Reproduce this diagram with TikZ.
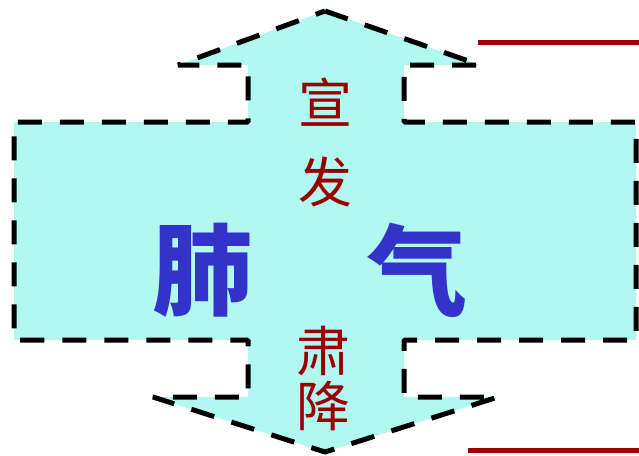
\documentclass[tikz,border=0pt]{standalone}
\usepackage{fontspec}
\newfontfamily\cjk{Noto Sans CJK SC}
\definecolor{fillcyan}{HTML}{B0F8F0}
\definecolor{darkred}{HTML}{990000}
\definecolor{textblue}{HTML}{3333CC}
\tikzset{
  outline/.style={draw=black, fill=fillcyan, line width=5pt, dash pattern=on 24pt off 18pt, line join=bevel},
  redline/.style={draw=darkred, line width=5pt},
  redchar/.style={text=darkred, font=\cjk\fontsize{54}{54}\selectfont, inner sep=0pt},
  bluechar/.style={text=textblue, font=\cjk\bfseries\fontsize{100}{100}\selectfont, inner sep=0pt},
}
\begin{document}
\begin{tikzpicture}[x=1pt,y=-1pt]
\useasboundingbox (0,0) rectangle (639,455);
\draw[outline] (325,11) -- (480,65) -- (404,65) -- (404,122) -- (636,122) -- (636,340)
  -- (404,340) -- (404,397) -- (498,397) -- (325,452) -- (153,397) -- (248,397)
  -- (248,340) -- (14,340) -- (14,122) -- (248,122) -- (248,65) -- (178,65) -- cycle;
\coordinate (r1a) at (478,42);
\coordinate (r1b) at (639,42);
\coordinate (r2a) at (468,450);
\coordinate (r2b) at (639,450);
\draw[redline] (r1a) -- (r1b);
\draw[redline] (r2a) -- (r2b);
\node[redchar] (xuan) at (325,102) {宣};
\node[redchar] (fa) at (325,182) {发};
\node[redchar] (su) at (323,351) {肃};
\node[redchar] (jiang) at (323,406) {降};
\node[bluechar] (fei) at (202,270) {肺};
\node[bluechar] (qi) at (417,270) {气};
\end{tikzpicture}
\end{document}
